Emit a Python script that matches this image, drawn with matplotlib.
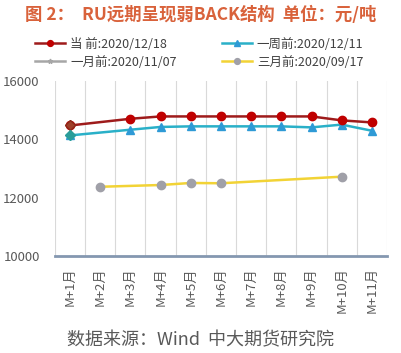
import matplotlib
matplotlib.use('Agg')
import matplotlib.pyplot as plt
import numpy as np

plt.rcParams['font.family'] = ['Noto Sans CJK SC', 'DejaVu Sans']

# Datos
meses = ['M+1月', 'M+2月', 'M+3月', 'M+4月', 'M+5月', 'M+6月',
         'M+7月', 'M+8月', 'M+9月', 'M+10月', 'M+11月']

idx_actual = [0, 2, 3, 4, 5, 6, 7, 8, 9, 10]
val_actual = [14470, 14700, 14780, 14780, 14780, 14780, 14780, 14780, 14645, 14575]

idx_semana = [0, 2, 3, 4, 5, 6, 7, 8, 9, 10]
val_semana = [14130, 14325, 14420, 14440, 14440, 14440, 14440, 14405, 14500, 14290]

idx_mes = []
val_mes = []

idx_trimestre = [1, 3, 4, 5, 9]
val_trimestre = [12370, 12430, 12500, 12490, 12715]

nombres = ['当 前:2020/12/18', '一周前:2020/12/11', '一月前:2020/11/07', '三月前:2020/09/17']

fig = plt.figure(figsize=(4.01, 3.53), dpi=100)
ax = fig.add_axes([0.137, 0.275, 0.828, 0.496])

x = np.arange(len(meses))

# Serie actual
l1, = ax.plot(idx_actual, val_actual, color='#9E1B1B', lw=1.8, marker='o', ms=6,
              mfc='#C00000', mec='#C00000', zorder=4)
ax.plot(idx_actual[:1], val_actual[:1], ls='none', marker='D', ms=5,
        mfc='#A0402A', mec='#8B2A1A', zorder=5)

# Serie semana
l2, = ax.plot(idx_semana, val_semana, color='#2AB0C8', lw=1.8, marker='^', ms=6,
              mfc='#2E9AD6', mec='#2E9AD6', zorder=3)
ax.plot(idx_semana[:1], val_semana[:1], ls='none', marker='D', ms=5,
        mfc='#2A9D9A', mec='#2A9D9A', zorder=5)

# Serie mes (sin datos)
l3, = ax.plot(idx_mes, val_mes, color='#A6A6A6', lw=1.8, marker='*', ms=5,
              mfc='#A6A6A6', mec='#A6A6A6')

# Serie trimestre
l4, = ax.plot(idx_trimestre, val_trimestre, color='#F2D335', lw=1.8, marker='o', ms=6,
              mfc='#A0A0A8', mec='#A0A0A8', zorder=3)

ax.set_xlim(-0.5, len(meses) - 0.5)
ax.set_ylim(10000, 16000)
ax.set_yticks([10000, 12000, 14000, 16000])
ax.set_xticks(x)
ax.set_xticklabels(meses, rotation=90, fontsize=9.5, color='#595959')
ax.set_xticks(np.arange(-0.5, len(meses), 1), minor=True)
ax.grid(which='minor', axis='x', color='#D9D9D9', lw=0.8)
ax.tick_params(axis='x', which='both', length=0, pad=8)
ax.tick_params(axis='y', length=0, labelsize=9.5, labelcolor='#595959', pad=11)

for s in ['top', 'right', 'left']:
    ax.spines[s].set_visible(False)
ax.spines['bottom'].set_color('#8497B0')
ax.spines['bottom'].set_linewidth(2)

fig.text(0.5, 0.958, '图 2：  RU远期呈现弱BACK结构  单位：元/吨', ha='center', va='center',
         fontsize=12.5, color='#D9623B', fontweight='bold')

# orden por columnas para que quede como en la original
fig.legend([l1, l3, l2, l4], [nombres[0], nombres[2], nombres[1], nombres[3]],
           ncol=2, loc='upper left', bbox_to_anchor=(0.06, 0.925), frameon=False,
           fontsize=9, labelcolor='#404040', handlelength=2.4, handletextpad=0.4,
           columnspacing=3.6, labelspacing=0.4, markerscale=0.7)

fig.text(0.5, 0.037, '数据来源：Wind  中大期货研究院', ha='center', va='center',
         fontsize=13, color='#595959')

plt.savefig('out.png', dpi=100)
